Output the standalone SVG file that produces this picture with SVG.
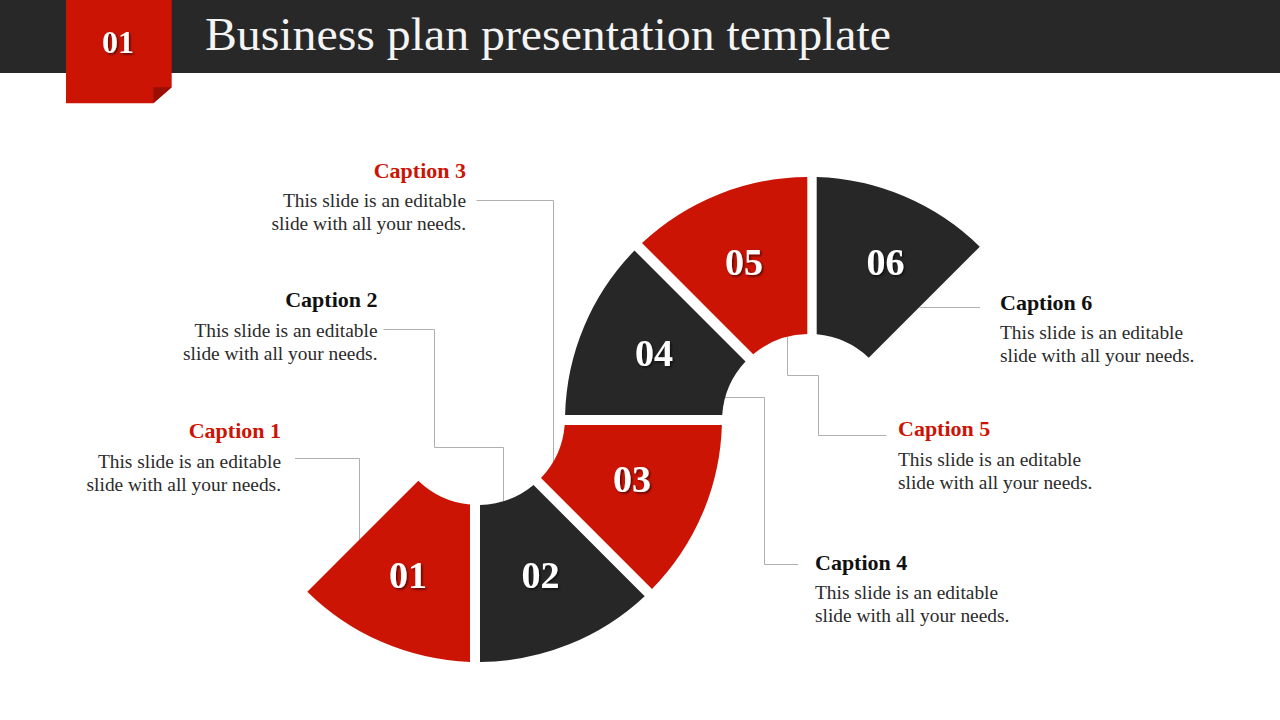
<svg xmlns="http://www.w3.org/2000/svg" width="1280" height="720" viewBox="0 0 1280 720">
  <defs>
    <filter id="sh" x="-20%" y="-20%" width="150%" height="150%">
      <feDropShadow dx="1.5" dy="1.5" stdDeviation="1" flood-color="#000" flood-opacity="0.6"/>
    </filter>
    <style>
      .red { fill: #CC1405; }
      .dark { fill: #272727; }
      .num { font-family: "Liberation Serif", serif; font-weight: bold; font-size: 38px; fill: #ffffff; text-anchor: middle; filter: url(#sh); }
      .cap { font-family: "Liberation Serif", serif; font-weight: bold; font-size: 22px; }
      .capr { fill: #CC1405; }
      .capk { fill: #111111; }
      .body { font-family: "Liberation Serif", serif; font-size: 19.4px; fill: #2b2b2b; }
      .conn { fill: none; stroke: #AFAFAF; stroke-width: 1; }
    </style>
  </defs>
  <rect x="0" y="0" width="1280" height="720" fill="#ffffff"/>

  <g id="header">
    <rect x="0" y="0" width="1280" height="73" fill="#282828"/>
    <polygon points="66,0 171.7,0 171.7,87.3 153.3,103.3 66,103.3" fill="#CC1405"/>
    <polygon points="153.3,87.3 171.7,87.3 153.3,103.3" fill="#9A0E04"/>
    <text x="118" y="53" font-family="Liberation Serif, serif" font-weight="bold" font-size="32" fill="#ffffff" text-anchor="middle" filter="url(#sh)">01</text>
    <text x="205" y="50" font-family="Liberation Serif, serif" font-size="46" fill="#f4f4f4" textLength="686" lengthAdjust="spacingAndGlyphs">Business plan presentation template</text>
  </g>

  <g id="connectors">
    <polyline class="conn" points="295,458.5 359.5,458.5 359.5,540"/>
    <polyline class="conn" points="383.5,329.5 434.5,329.5 434.5,447.5 503.5,447.5 503.5,501"/>
    <polyline class="conn" points="476.5,200.5 553.5,200.5 553.5,462"/>
    <polyline class="conn" points="725,397.5 764.5,397.5 764.5,564.5 798,564.5"/>
    <polyline class="conn" points="787.5,337 787.5,375.5 818.5,375.5 818.5,435.5 886.5,435.5"/>
    <polyline class="conn" points="919.5,307.5 980,307.5"/>
  </g>

  <g id="seg01">
    <path class="red" d="M418.3,480.7 A87,87 0 0 0 470,504.6 L470,661.9 A244,244 0 0 1 307.3,591.7 Z"/>
    <text class="num" x="408" y="588">01</text>
  </g>
  <g id="seg02">
    <path class="dark" d="M480,505 L480,662 A244,244 0 0 0 644.7,596.2 L533.5,485 A87,87 0 0 1 480,505 Z"/>
    <text class="num" x="540.5" y="588">02</text>
  </g>
  <g id="seg03">
    <path class="red" d="M564.7,425 L721.9,425 A244,244 0 0 1 652,589 L541,478 A87,87 0 0 0 564.7,425 Z"/>
    <text class="num" x="632" y="492">03</text>
  </g>
  <g id="seg04">
    <path class="dark" d="M565.1,415 L722.2,415 A87,87 0 0 1 745.5,361.5 L634.5,250.5 A244,244 0 0 0 565.1,415 Z"/>
    <text class="num" x="654" y="366">04</text>
  </g>
  <g id="seg05">
    <path class="red" d="M642,243 L753.2,354.2 A87,87 0 0 1 807.3,334 L807.3,177 A244,244 0 0 0 642,243 Z"/>
    <text class="num" x="744" y="274.5">05</text>
  </g>
  <g id="seg06">
    <path class="dark" d="M816.7,177.1 L816.7,334.3 A87,87 0 0 1 868.75,357.75 L979.8,246.7 A244,244 0 0 0 816.7,177.1 Z"/>
    <text class="num" x="885.5" y="274.5">06</text>
  </g>

  <g id="caption1" text-anchor="end">
    <text class="cap capr" x="281" y="438">Caption 1</text>
    <text class="body" x="281" y="467.5">This slide is an editable</text>
    <text class="body" x="281" y="490.5">slide with all your needs.</text>
  </g>
  <g id="caption2" text-anchor="end">
    <text class="cap capk" x="377.5" y="307">Caption 2</text>
    <text class="body" x="377.5" y="337">This slide is an editable</text>
    <text class="body" x="377.5" y="360">slide with all your needs.</text>
  </g>
  <g id="caption3" text-anchor="end">
    <text class="cap capr" x="466" y="178">Caption 3</text>
    <text class="body" x="466" y="207">This slide is an editable</text>
    <text class="body" x="466" y="230">slide with all your needs.</text>
  </g>
  <g id="caption4">
    <text class="cap capk" x="815" y="570">Caption 4</text>
    <text class="body" x="815" y="598.5">This slide is an editable</text>
    <text class="body" x="815" y="621.5">slide with all your needs.</text>
  </g>
  <g id="caption5">
    <text class="cap capr" x="898" y="436">Caption 5</text>
    <text class="body" x="898" y="465.5">This slide is an editable</text>
    <text class="body" x="898" y="488.5">slide with all your needs.</text>
  </g>
  <g id="caption6">
    <text class="cap capk" x="1000" y="309.5">Caption 6</text>
    <text class="body" x="1000" y="339">This slide is an editable</text>
    <text class="body" x="1000" y="362">slide with all your needs.</text>
  </g>
</svg>
